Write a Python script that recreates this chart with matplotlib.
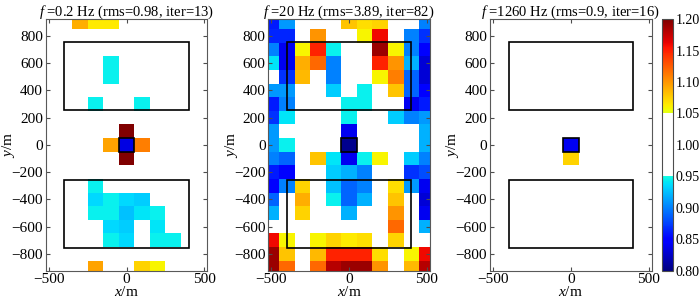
import matplotlib
matplotlib.use("Agg")
import matplotlib.pyplot as plt
import numpy as np
from matplotlib.colors import ListedColormap

plt.rcParams['font.family'] = ['Liberation Serif', 'DejaVu Serif']
plt.rcParams['mathtext.fontset'] = 'custom'
plt.rcParams['mathtext.rm'] = 'Liberation Serif'
plt.rcParams['mathtext.it'] = 'Liberation Serif:italic'
plt.rcParams['font.size'] = 11

W = 1.0  # background value (white)

# cell centres (m)
x_centers = [-500, -400, -300, -200, -100, 0, 100, 200, 300, 400, 500]
y_centers = [900, 800, 700, 600, 500, 400, 300, 200, 100, 0,
             -100, -200, -300, -400, -500, -600, -700, -800, -900]

titles = ["$f$ =0.2 Hz (rms=0.98, iter=13)",
          "$f$ =20 Hz (rms=3.89, iter=82)",
          "$f$ =1260 Hz (rms=0.9, iter=16)"]

# rows from y=900 down to y=-900, columns x=-500..500
rho_02 = [
    [W, W, 1.09, 1.065, 1.065, W, W, W, W, W, W],
    [W, W, W, W, W, W, W, W, W, W, W],
    [W, W, W, W, W, W, W, W, W, W, W],
    [W, W, W, W, 0.945, W, W, W, W, W, W],
    [W, W, W, W, 0.945, W, W, W, W, W, W],
    [W, W, W, W, W, W, W, W, W, W, W],
    [W, W, W, 0.945, W, W, 0.945, W, W, W, W],
    [W, W, W, W, W, W, W, W, W, W, W],
    [W, W, W, W, W, 1.2, W, W, W, W, W],
    [W, W, W, W, 1.095, 0.835, 1.11, W, W, W, W],
    [W, W, W, W, W, 1.2, W, W, W, W, W],
    [W, W, W, W, W, W, W, W, W, W, W],
    [W, W, W, 0.945, W, W, W, W, W, W, W],
    [W, W, W, 0.935, 0.945, 0.935, 0.93, W, W, W, W],
    [W, W, W, 0.945, 0.945, 0.925, 0.94, 0.945, W, W, W],
    [W, W, W, W, 0.935, 0.93, W, 0.94, W, W, W],
    [W, W, W, W, 0.945, 0.935, W, 0.945, 0.945, W, W],
    [W, W, W, W, W, W, W, W, W, W, W],
    [W, W, W, 1.095, W, W, 1.075, 1.06, W, W, W],
]

rho_20 = [
    [0.86, 0.91, W, W, W, 1.08, 1.07, 1.075, W, W, 0.90],
    [0.865, 0.865, W, 1.10, W, W, 1.06, 1.16, W, 0.90, 0.87],
    [0.90, 0.84, 1.06, 1.15, 0.945, W, W, 1.19, 1.06, 0.90, 0.85],
    [0.94, 0.84, 1.09, 1.12, 0.90, W, W, 1.15, 1.10, 0.92, 0.83],
    [W, 0.87, 1.085, W, 0.90, W, W, 1.06, 1.11, 0.89, 0.83],
    [0.91, 0.91, W, W, 0.93, W, 0.945, W, 1.08, 0.89, 0.85],
    [0.86, 0.90, W, W, W, 0.945, 0.945, W, W, 0.84, 0.86],
    [0.87, 0.94, W, W, W, 0.945, W, W, 0.93, 0.90, 0.91],
    [0.91, W, W, W, W, 0.84, W, W, W, W, 0.92],
    [0.91, 0.945, W, W, W, 0.805, W, W, W, W, 0.92],
    [0.90, 0.89, W, 1.08, 0.94, 0.84, 0.945, 1.06, W, 0.93, 0.90],
    [0.86, 0.85, W, W, 0.93, 0.92, 0.90, W, W, 0.87, 0.88],
    [0.85, 0.90, 1.075, W, 0.925, 0.89, 0.90, W, 1.07, 0.91, 0.84],
    [0.89, W, 1.09, W, 0.945, 0.89, 0.92, W, 1.08, W, 0.83],
    [0.92, W, 1.075, W, W, 0.92, W, W, 1.10, W, 0.84],
    [W, W, W, W, W, W, W, W, 1.12, W, 0.92],
    [1.16, 1.06, W, 1.06, 1.075, 1.065, 1.07, W, 1.075, W, W],
    [1.19, 1.08, W, 1.085, 1.15, 1.15, 1.15, 1.07, W, 1.06, 1.16],
    [1.19, 1.12, W, 1.12, 1.18, 1.19, 1.19, 1.10, W, 1.085, 1.18],
]

rho_1260 = [[W] * 11 for _ in range(19)]
rho_1260[9][5] = 0.84
rho_1260[10][5] = 1.075

panels = [rho_02, rho_20, rho_1260]

# target bodies: (x0, y0, width, height)
blocks = [(-400, 260, 800, 500), (-400, -760, 800, 500), (-50, -50, 100, 100)]

# jet colour map with white band between 0.95 and 1.05
vals = np.linspace(0, 1, 256)
colors = plt.get_cmap('jet')(vals)
colors[(vals > 0.375) & (vals < 0.625)] = [1, 1, 1, 1]
cmap = ListedColormap(colors)


def draw():
    fig = plt.figure(figsize=(7.0, 3.01), dpi=100)
    lefts = [0.0653, 0.3833, 0.700]
    xe = np.arange(-550, 551, 100)
    ye = np.arange(-950, 951, 100)
    for i, data in enumerate(panels):
        ax = fig.add_axes([lefts[i], 0.1006, 0.231, 0.836])
        z = np.array(data)[::-1]
        mesh = ax.pcolormesh(xe, ye, z, cmap=cmap, vmin=0.8, vmax=1.2)
        for (x0, y0, w, h) in blocks:
            ax.add_patch(plt.Rectangle((x0, y0), w, h, fill=False,
                                       edgecolor='black', linewidth=1.2))
        ax.set_xlim(-520, 520)
        ax.set_ylim(-925, 925)
        ax.set_xticks([-500, 0, 500])
        ax.set_yticks(np.arange(-800, 801, 200))
        ax.tick_params(direction='in', top=True, right=True, length=3,
                       color='0.3', labelsize=11, pad=2)
        for s in ax.spines.values():
            s.set_color('0.35')
        ax.set_title(titles[i], fontsize=10.5, pad=2)
        ax.set_xlabel("$x$/m", labelpad=-1)
        ax.set_ylabel("$y$/m", labelpad=-4)
    cax = fig.add_axes([0.9457, 0.1006, 0.0164, 0.836])
    cb = fig.colorbar(mesh, cax=cax, ticks=np.arange(0.8, 1.201, 0.05))
    cb.ax.set_yticklabels(["%.2f" % t for t in np.arange(0.8, 1.201, 0.05)])
    cb.ax.tick_params(direction='in', length=0, labelsize=10, pad=1.5)
    cb.outline.set_edgecolor('0.3')
    fig.savefig("out.png", dpi=100)


if __name__ == "__main__":
    draw()
